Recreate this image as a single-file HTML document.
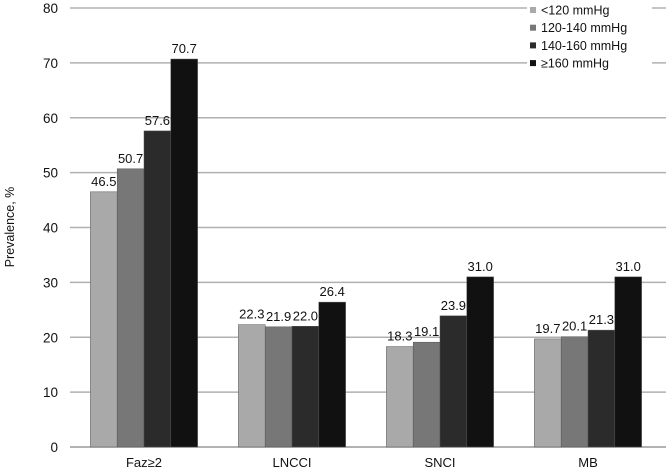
<!DOCTYPE html>
<html><head><meta charset="utf-8"><style>
body{margin:0;background:#fff;}
svg{display:block;font-family:"Liberation Sans",sans-serif;}
</style></head><body>
<svg id="c" width="666" height="471"></svg>
<script>
const categories=["Faz≥2","LNCCI","SNCI","MB"];
const seriesNames=["<120 mmHg","120-140 mmHg","140-160 mmHg","≥160 mmHg"];
const s1=[46.5,22.3,18.3,19.7];
const s2=[50.7,21.9,19.1,20.1];
const s3=[57.6,22.0,23.9,21.3];
const s4=[70.7,26.4,31.0,31.0];
const yTicks=[0,10,20,30,40,50,60,70,80];
const series=[s1,s2,s3,s4];
const colors=["#a9a9a9","#777","#2b2b2b","#111"];
const svg=document.getElementById('c');const NS="http://www.w3.org/2000/svg";
function el(t,a,txt){const e=document.createElementNS(NS,t);for(const k in a)e.setAttribute(k,a[k]);if(txt!=null)e.textContent=txt;svg.appendChild(e);return e;}
const x0=70,x1=662,yb=447,yt=8;
const y=v=>yb-(v/80)*(yb-yt);
const band=(x1-x0)/categories.length,bw=26.8;
yTicks.forEach(t=>{
 const g=el('line',{x1:x0,x2:666,y1:y(t),y2:y(t),stroke:t===0?'#999':'#b0b0b0','stroke-width':1.4});
 
 const l=el('text',{x:58,y:y(t)+5,'text-anchor':'end','font-size':13.5,fill:'#111'},t);
 
});
const yl=el('text',{transform:'translate(14,227) rotate(-90)','text-anchor':'middle','font-size':12.5,fill:'#111'},'Prevalence, %');

categories.forEach((c,i)=>{
 const cx=x0+band*(i+0.5);
 const cl=el('text',{x:cx,y:467,'text-anchor':'middle','font-size':13,fill:'#111'},c);
 
 series.forEach((s,j)=>{
  const bx=cx-2*bw+j*bw,v=s[i];
  const r=el('rect',{x:bx,y:y(v),width:bw,height:yb-y(v),fill:colors[j],stroke:'#555','stroke-width':0.5});
  
  const t=el('text',{x:bx+bw/2,y:y(v)-6,'text-anchor':'middle','font-size':13,fill:'#111'},v.toFixed(1));
  
 });
});
const bg=el('rect',{x:527,y:0,width:125,height:72,fill:'#fff'});

seriesNames.forEach((n,j)=>{
 const cy=10+j*17.7;
 const sq=el('rect',{x:530,y:cy-3,width:6,height:6,fill:colors[j]});
 
 const t=el('text',{x:541,y:cy+4.5,'font-size':12.5,fill:'#111'},n);
 
});
</script>
</body></html>
